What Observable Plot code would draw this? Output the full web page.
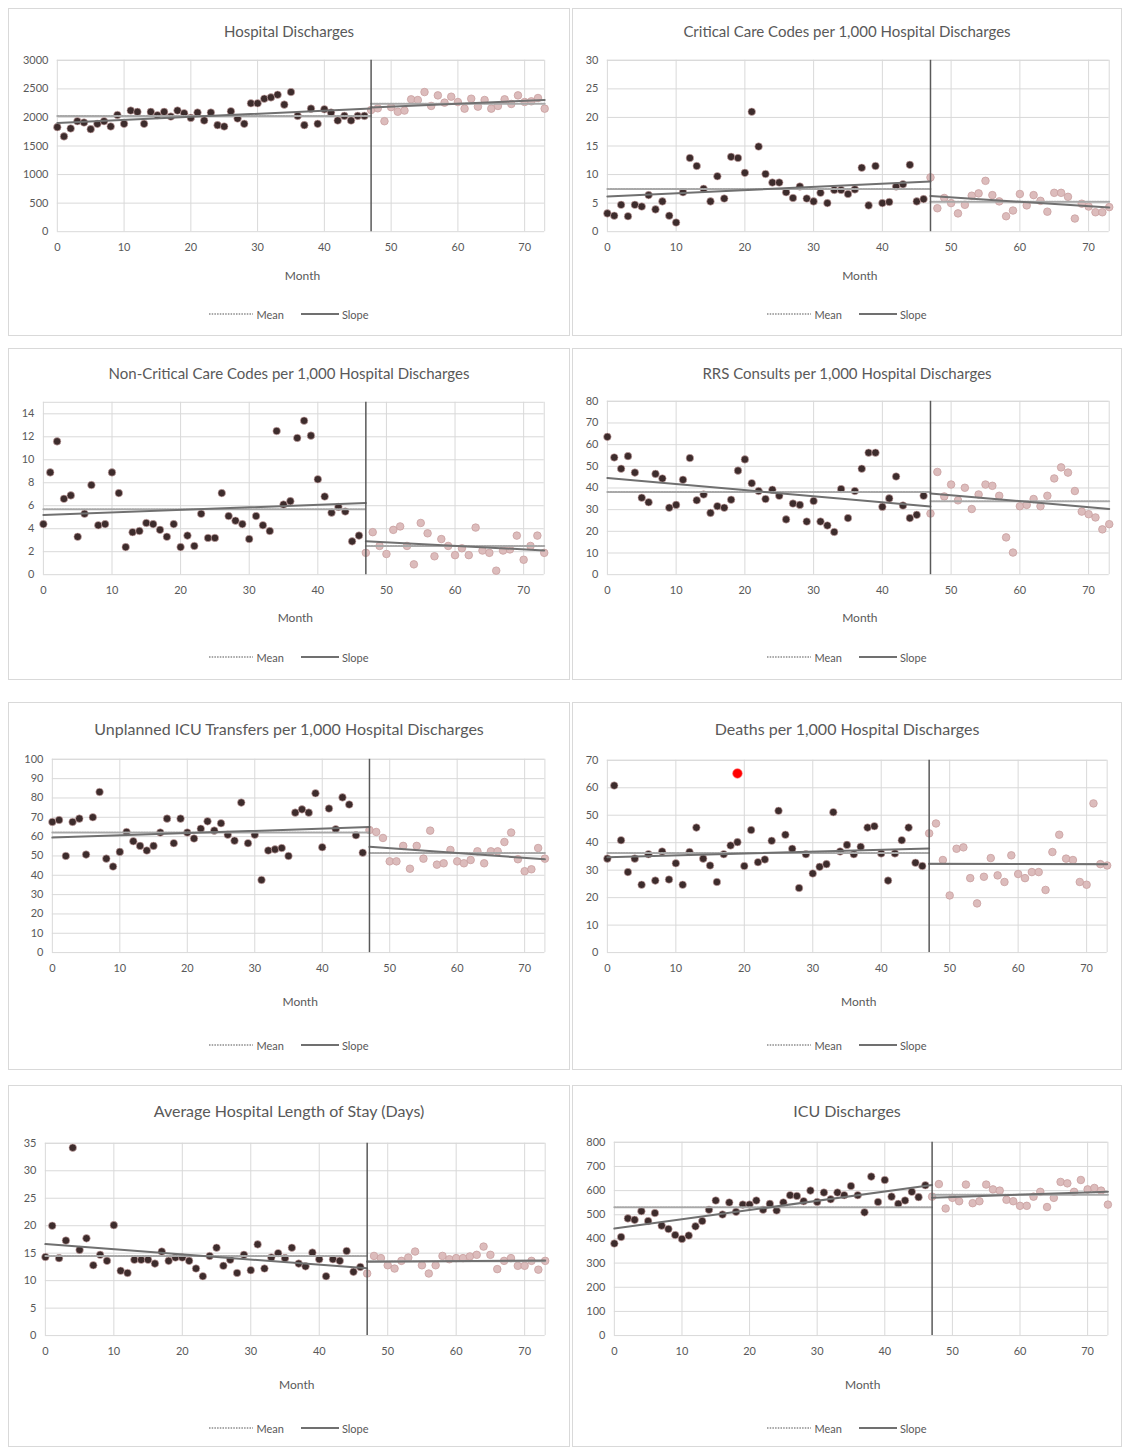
<!DOCTYPE html>
<html>
<head>
<meta charset="utf-8">
<script src="https://cdn.jsdelivr.net/npm/d3@7"></script>
<script src="https://cdn.jsdelivr.net/npm/@observablehq/plot@0.6"></script>
<style>
  html, body { margin: 0; padding: 0; background: #fff; }
  #root { position: relative; width: 1123px; height: 1450px; font-family: Lato, "Open Sans", sans-serif; color: #595959; }
  .box { position: absolute; border: 1px solid #d9d9d9; box-sizing: border-box; background: #fff; }
  .box svg { position: absolute; left: -1px; top: -1px; }
  .ttl { position: absolute; left: 0; right: 0; text-align: center; white-space: nowrap; color: #595959; }
  .mth { position: absolute; left: 0; font-size: 12px; color: #595959; transform: translate(-50%, -50%); }
  .leg { position: absolute; left: 0; right: 0; text-align: center; font-size: 11px; color: #595959; display: flex; justify-content: center; align-items: center; gap: 3px; }
</style>
</head>
<body>
<div id="root"></div>
<script>
// ---------- DATA ----------
const xTicks = [0, 10, 20, 30, 40, 50, 60, 70];
const interventionMonth = 47;
const lastMonth = 73;
const axisTitle = "Month";
const legendLabels = ["Mean", "Slope"];

const titles = [
  "Hospital Discharges",
  "Critical Care Codes per 1,000 Hospital Discharges",
  "Non-Critical Care Codes per 1,000 Hospital Discharges",
  "RRS Consults per 1,000 Hospital Discharges",
  "Unplanned ICU Transfers per 1,000 Hospital Discharges",
  "Deaths per 1,000 Hospital Discharges",
  "Average Hospital Length of Stay (Days)",
  "ICU Discharges"
];

const dischargesTicks = [0, 500, 1000, 1500, 2000, 2500, 3000];
const dischargesPre = [1830,1668,1807,1934,1911,1795,1888,1934,1842,2044,1888,2120,2097,1888,2097,2039,2097,2015,2120,2073,1992,2085,1946,2085,1865,1842,2108,1981,1888,2247,2247,2328,2351,2398,2224,2444,2027,1865,2154,1888,2143,2085,1946,2027,1946,2027,2027];
const dischargesPost = [2130,2160,1934,2180,2100,2120,2317,2305,2444,2201,2386,2259,2363,2270,2154,2328,2189,2305,2154,2201,2317,2236,2386,2270,2282,2340,2154];

const critTicks = [0, 5, 10, 15, 20, 25, 30];
const critPre = [3.2,2.8,4.7,2.7,4.7,4.4,6.4,3.9,5.3,2.8,1.6,6.9,12.9,11.5,7.5,5.3,9.7,5.8,13.1,12.9,10.3,21.0,14.9,10.1,8.6,8.6,6.9,5.9,7.9,5.8,5.3,6.8,5.0,7.3,7.3,6.6,7.4,11.2,4.6,11.5,5.0,5.2,7.9,8.3,11.7,5.3,5.7];
const critPost = [9.5,4.1,5.9,5.0,3.2,4.7,6.3,6.7,8.9,6.4,5.3,2.7,3.7,6.6,4.6,6.4,5.4,3.5,6.8,6.8,6.1,2.3,4.9,4.4,3.4,3.4,4.3];

const nonCritTicks = [0, 2, 4, 6, 8, 10, 12, 14];
const nonCritPre = [4.4,8.9,11.6,6.6,6.9,3.3,5.3,7.8,4.3,4.4,8.9,7.1,2.4,3.7,3.8,4.5,4.4,3.9,3.3,4.4,2.4,3.4,2.5,5.3,3.2,3.2,7.1,5.1,4.7,4.4,3.1,5.1,4.3,3.8,12.5,6.1,6.4,11.9,13.4,12.1,8.3,6.8,5.4,5.9,5.5,2.9,3.4];
const nonCritPost = [1.9,3.7,2.5,1.8,3.9,4.2,2.5,0.9,4.5,3.6,1.6,3.1,2.5,1.7,2.3,1.7,4.1,2.1,1.9,0.35,2.1,2.2,3.4,1.3,2.5,3.4,1.9];

const rrsTicks = [0, 10, 20, 30, 40, 50, 60, 70, 80];
const rrsPre = [63.6,54.1,48.9,54.7,47.1,35.5,33.4,46.5,44.4,30.9,32.2,43.8,53.8,34.3,37.0,28.5,31.6,30.9,34.6,48.0,53.2,42.2,38.6,34.9,39.2,36.4,25.5,32.8,32.2,24.5,34.0,24.5,22.7,19.7,39.5,26.1,38.6,48.9,56.3,56.3,31.3,35.2,45.3,31.9,26.1,27.6,36.4];
const rrsPost = [28.2,47.4,36.1,41.6,34.3,40.1,30.3,37.0,41.6,41.0,36.4,17.2,10.2,31.6,32.2,34.9,31.6,36.4,44.4,49.5,47.1,38.6,29.1,27.9,26.4,20.9,23.3];

const icuTransferTicks = [0, 10, 20, 30, 40, 50, 60, 70, 80, 90, 100];
const icuTransferPre = [67.6,68.6,50.0,67.6,69.3,50.7,70.0,83.1,48.6,44.5,52.1,62.4,57.6,55.2,52.8,55.2,62.1,69.3,56.6,69.3,62.1,59.0,64.1,67.9,63.1,66.9,61.0,57.9,77.6,56.6,61.0,37.6,52.8,53.4,54.1,50.0,72.4,74.1,72.4,82.4,54.5,74.5,63.8,80.3,76.6,60.7,51.7];
const icuTransferPost = [63.4,62.4,59.3,47.2,47.2,55.2,43.4,55.2,48.6,63.1,45.5,46.2,53.1,47.2,46.2,47.9,52.4,46.2,52.4,52.4,57.2,62.1,48.3,42.1,43.1,54.1,48.6];

const deathsTicks = [0, 10, 20, 30, 40, 50, 60, 70];
const deathsPre = [34.2,60.8,40.9,29.3,34.2,24.7,35.8,26.2,36.8,26.6,32.5,24.7,36.6,45.5,34.2,31.7,25.7,35.8,39.0,40.2,31.5,44.6,32.9,33.9,40.7,51.6,42.9,37.8,23.5,35.8,28.8,31.2,32.2,51.1,36.8,39.2,35.8,38.5,45.5,46.0,36.1,26.2,36.1,40.9,45.5,32.7,31.5];
const deathsPost = [43.4,47.0,33.7,20.8,37.8,38.3,27.1,17.9,27.6,34.4,28.1,25.7,35.4,28.6,27.1,29.3,29.3,22.8,36.6,42.9,34.2,33.7,25.7,24.7,54.3,32.2,31.7];
const deathsHighlightMonth = [19];
const deathsHighlightValue = [65.2];

const losTicks = [0, 5, 10, 15, 20, 25, 30, 35];
const losPre = [14.3,20.0,14.1,17.3,34.2,15.6,17.7,12.8,14.7,13.6,20.1,11.8,11.4,13.8,13.8,13.8,13.1,15.3,13.6,14.2,14.2,13.6,12.2,10.8,14.5,16.0,12.7,13.8,11.4,14.7,11.9,16.6,12.2,14.2,15.0,14.1,16.0,13.1,12.6,15.1,13.9,10.8,13.9,13.6,15.4,11.6,12.5];
const losPost = [11.3,14.5,14.1,12.8,12.2,13.6,14.2,15.3,12.8,11.3,12.8,14.5,13.9,14.1,14.1,14.4,14.7,16.2,14.7,12.1,13.6,14.1,12.7,12.7,13.6,12.0,13.6];

const icuDischTicks = [0, 100, 200, 300, 400, 500, 600, 700, 800];
const icuDischPre = [381,408,485,479,515,474,507,455,441,416,400,414,452,474,521,559,501,551,512,542,542,559,521,545,518,551,581,578,556,600,553,592,564,592,581,619,581,510,658,553,644,575,545,559,595,573,622];
const icuDischPost = [575,627,526,570,556,625,548,556,625,605,600,562,556,537,537,575,595,532,570,636,630,595,644,605,611,600,542];

// ---------- LAYOUT (pixel positions of each panel) ----------
const layout = [
  {box:[8,8,562,328],   x0:57,  x70:526,  yTop:60,   y0:232,  titleY:31,   monthY:274,  legendY:313,  tsize:15},
  {box:[572,8,550,328], x0:607, x70:1090, yTop:60,   y0:232,  titleY:31,   monthY:274,  legendY:313,  tsize:15},
  {box:[8,348,562,332], x0:43,  x70:525,  yTop:402,  y0:575,  titleY:373,  monthY:616,  legendY:656,  tsize:15},
  {box:[572,348,550,332],x0:607,x70:1090, yTop:401,  y0:575,  titleY:373,  monthY:616,  legendY:656,  tsize:15},
  {box:[8,702,562,368], x0:52,  x70:526,  yTop:759,  y0:953,  titleY:728,  monthY:1000, legendY:1044, tsize:16},
  {box:[572,702,550,368],x0:607,x70:1088, yTop:760,  y0:953,  titleY:728,  monthY:1000, legendY:1044, tsize:16},
  {box:[8,1085,562,362],x0:45,  x70:526,  yTop:1143, y0:1336, titleY:1110, monthY:1383, legendY:1427, tsize:16},
  {box:[572,1085,550,362],x0:614,x70:1089,yTop:1142, y0:1336, titleY:1110, monthY:1383, legendY:1427, tsize:16}
];

const series = [
  {pre: dischargesPre,   post: dischargesPost,   ticks: dischargesTicks,   yMax: 3000},
  {pre: critPre,         post: critPost,         ticks: critTicks,         yMax: 30},
  {pre: nonCritPre,      post: nonCritPost,      ticks: nonCritTicks,      yMax: 15},
  {pre: rrsPre,          post: rrsPost,          ticks: rrsTicks,          yMax: 80},
  {pre: icuTransferPre,  post: icuTransferPost,  ticks: icuTransferTicks,  yMax: 100},
  {pre: deathsPre,       post: deathsPost,       ticks: deathsTicks,       yMax: 70, hiX: deathsHighlightMonth, hiY: deathsHighlightValue},
  {pre: losPre,          post: losPost,          ticks: losTicks,          yMax: 35},
  {pre: icuDischPre,     post: icuDischPost,     ticks: icuDischTicks,     yMax: 800}
];

// ---------- DRAW ----------
const DARK = "#3d2c2c", DARK_STROKE = "#d9b3b3";
const PINK = "#dcbcbc", PINK_STROKE = "#c9a0a0";
const GRID = "#d9d9d9", MEAN = "#a8a8a8", SLOPE = "#707070", VLINE = "#595959";

function fit(pts) {
  const mx = d3.mean(pts, d => d.x), my = d3.mean(pts, d => d.y);
  let num = 0, den = 0;
  for (const p of pts) { num += (p.x - mx) * (p.y - my); den += (p.x - mx) ** 2; }
  const b = num / den, a = my - b * mx;
  return {a, b, mean: my};
}

const root = document.getElementById("root");

series.forEach((s, i) => {
  const L = layout[i];
  const [bx, by, bw, bh] = L.box;
  const xRight = L.x0 + (L.x70 - L.x0) * lastMonth / 70;

  const prePts = s.pre.map((v, k) => ({x: k, y: v}));
  const postPts = s.post.map((v, k) => ({x: interventionMonth + k, y: v}));
  const fPre = fit(prePts), fPost = fit(postPts);
  const meanLines = [
    [{x: 0, y: fPre.mean}, {x: interventionMonth, y: fPre.mean}],
    [{x: interventionMonth, y: fPost.mean}, {x: lastMonth, y: fPost.mean}]
  ];
  const slopeLines = [
    [{x: 0, y: fPre.a}, {x: interventionMonth, y: fPre.a + fPre.b * interventionMonth}],
    [{x: interventionMonth, y: fPost.a + fPost.b * interventionMonth}, {x: lastMonth, y: fPost.a + fPost.b * lastMonth}]
  ];

  const marks = [
    Plot.ruleY(s.ticks, {stroke: GRID, strokeWidth: 1}),
    Plot.ruleY([s.yMax], {stroke: GRID, strokeWidth: 1}),
    Plot.ruleX(xTicks, {y1: 0, y2: s.yMax, stroke: GRID, strokeWidth: 1}),
    Plot.ruleX([lastMonth], {y1: 0, y2: s.yMax, stroke: GRID, strokeWidth: 1}),
    Plot.dot(prePts, {x: "x", y: "y", r: 3.8, fill: DARK, stroke: DARK_STROKE, strokeWidth: 0.6}),
    Plot.dot(postPts, {x: "x", y: "y", r: 3.8, fill: PINK, stroke: PINK_STROKE, strokeWidth: 0.8}),
    ...meanLines.map(l => Plot.line(l, {x: "x", y: "y", stroke: MEAN, strokeWidth: 2, strokeDasharray: "1.5,1.2"})),
    ...slopeLines.map(l => Plot.line(l, {x: "x", y: "y", stroke: SLOPE, strokeWidth: 2})),
    Plot.ruleX([interventionMonth], {y1: 0, y2: s.yMax, stroke: VLINE, strokeWidth: 1.5})
  ];
  if (s.hiX) {
    marks.push(Plot.dot(s.hiX.map((m, k) => ({x: m, y: s.hiY[k]})), {x: "x", y: "y", r: 4.8, fill: "#ff0000", stroke: "#ff6666", strokeWidth: 0.6}));
  }

  const svg = Plot.plot({
    width: bw, height: bh,
    marginLeft: L.x0 - bx, marginRight: bx + bw - xRight,
    marginTop: L.yTop - by, marginBottom: by + bh - L.y0,
    style: {fontFamily: "Lato, 'Open Sans', sans-serif", fontSize: "11px", color: "#595959", background: "transparent", overflow: "visible"},
    x: {domain: [0, lastMonth], ticks: xTicks, tickSize: 0, tickPadding: 12, label: null, tickFormat: d => String(d)},
    y: {domain: [0, s.yMax], ticks: s.ticks, tickSize: 0, tickPadding: 9, label: null, tickFormat: d => String(d)},
    marks
  });

  const box = document.createElement("div");
  box.className = "box";
  box.style.left = bx + "px"; box.style.top = by + "px";
  box.style.width = bw + "px"; box.style.height = bh + "px";
  box.appendChild(svg);

  const t = document.createElement("div");
  t.className = "ttl";
  t.textContent = titles[i];
  t.style.fontSize = L.tsize + "px";
  t.style.top = (L.titleY - by - L.tsize * 0.65) + "px";
  box.appendChild(t);

  const m = document.createElement("div");
  m.className = "mth";
  m.textContent = axisTitle;
  m.style.left = ((L.x0 + xRight) / 2 - bx) + "px";
  m.style.top = (L.monthY - by) + "px";
  box.appendChild(m);

  const lg = document.createElement("div");
  lg.className = "leg";
  lg.style.top = (L.legendY - by - 8) + "px";
  lg.style.height = "16px";
  lg.innerHTML =
    `<svg width="44" height="6" style="position:static"><line x1="0" y1="3" x2="44" y2="3" stroke="${MEAN}" stroke-width="2" stroke-dasharray="1.5,1.2"/></svg>` +
    `<span style="margin-right:14px">${legendLabels[0]}</span>` +
    `<svg width="38" height="6" style="position:static"><line x1="0" y1="3" x2="38" y2="3" stroke="${SLOPE}" stroke-width="2.2"/></svg>` +
    `<span>${legendLabels[1]}</span>`;
  box.appendChild(lg);

  root.appendChild(box);
});
</script>
</body>
</html>
